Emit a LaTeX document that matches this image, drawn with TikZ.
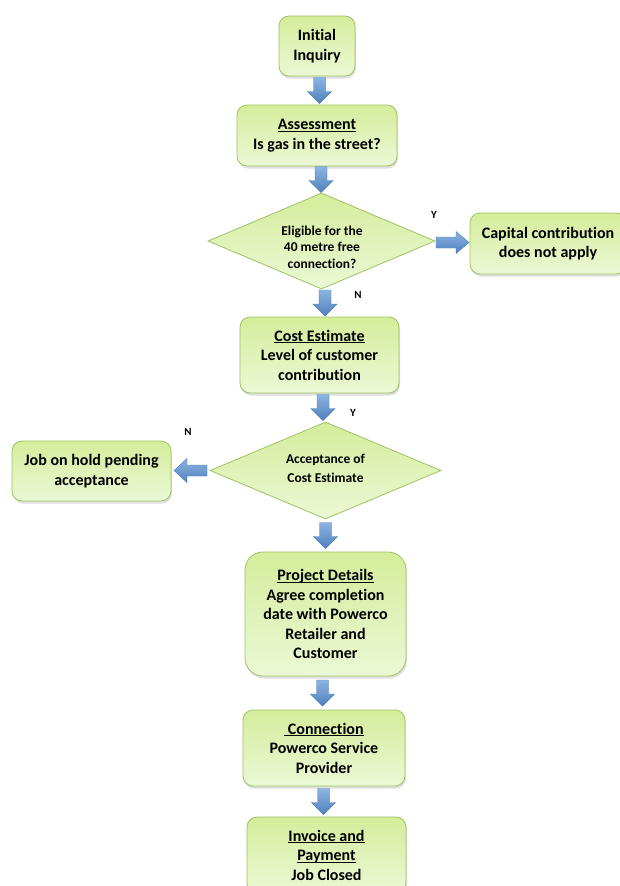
\documentclass[tikz,border=0pt]{standalone}
\usepackage{fontspec}
\setmainfont{Carlito}[Ligatures=NoCommon]
\usetikzlibrary{shapes.geometric,shadows,calc}
\definecolor{boxtop}{RGB}{212,237,155}
\definecolor{boxbot}{RGB}{236,248,214}
\definecolor{boxline}{RGB}{158,195,96}
\definecolor{arrlight}{RGB}{141,180,226}
\definecolor{arrdark}{RGB}{79,129,189}
\definecolor{arrline}{RGB}{74,122,180}
\newcommand\myul[1]{\setbox0\hbox{#1}\rlap{\rule[-2.2pt]{\wd0}{0.8pt}}\box0}
\newcommand\downarr[3]{\path[barrow] let \p1=(#1.south), \p2=(#2.north), \n1={(\y1+\y2)/2} in
 (#3pt-6pt,\n1+13pt) -- (#3pt+6pt,\n1+13pt) -- (#3pt+6pt,\n1-1pt) -- (#3pt+12pt,\n1-1pt) -- (#3pt,\n1-13pt) -- (#3pt-12pt,\n1-1pt) -- (#3pt-6pt,\n1-1pt) -- cycle;}
\newcommand\rightarr[3]{\path[barrow] let \p1=(#1.east), \p2=(#2.west), \n1={(\x1+\x2)/2} in
 (\n1-16.5pt,-#3pt+5.5pt) -- (\n1+3.5pt,-#3pt+5.5pt) -- (\n1+3.5pt,-#3pt+11pt) -- (\n1+16.5pt,-#3pt) -- (\n1+3.5pt,-#3pt-11pt) -- (\n1+3.5pt,-#3pt-5.5pt) -- (\n1-16.5pt,-#3pt-5.5pt) -- cycle;}
\newcommand\leftarr[3]{\path[barrow] let \p1=(#1.west), \p2=(#2.east), \n1={(\x1+\x2)/2} in
 (\n1+16.5pt,-#3pt+5.5pt) -- (\n1-3.5pt,-#3pt+5.5pt) -- (\n1-3.5pt,-#3pt+12pt) -- (\n1-16.5pt,-#3pt) -- (\n1-3.5pt,-#3pt-12pt) -- (\n1-3.5pt,-#3pt-5.5pt) -- (\n1+16.5pt,-#3pt-5.5pt) -- cycle;}
\begin{document}
\begin{tikzpicture}[x=1pt,y=-1pt,
 box/.style={rectangle, rounded corners=10pt, draw=boxline, line width=0.8pt, top color=boxtop, bottom color=boxbot, drop shadow={shadow xshift=1pt,shadow yshift=-2.5pt,opacity=0.25}, align=center, font=\fontsize{16}{19.5}\selectfont\bfseries, inner sep=0pt},
 dec/.style={diamond, aspect=2.4, draw=boxline, line width=0.8pt, top color=boxtop, bottom color=boxbot, inner sep=0pt},
 dtext/.style={align=center, font=\fontsize{13.5}{16.5}\selectfont\bfseries, inner sep=0pt},
 yn/.style={font=\fontsize{11}{12}\selectfont\bfseries, inner sep=0pt},
 barrow/.style={top color=arrlight, bottom color=arrdark, draw=arrline, line width=0.4pt}]
\useasboundingbox[fill=white] (0,0) rectangle (619,886);
\node[box, minimum width=76pt, minimum height=60pt] (b1) at (317,46) {Initial\\Inquiry};
\node[box, minimum width=160pt, minimum height=61pt] (b2) at (317,135.5) {\myul{Assessment}\\Is gas in the street?};
\node[dec, minimum width=227pt, minimum height=96pt] (d1) at (321.5,241) {};
\node[dtext] (d1t) at (322,247) {Eligible for the\\40 metre free\\connection?};
\node[box, minimum width=156pt, minimum height=61pt] (b4) at (548,243.5) {Capital contribution\\does not apply};
\node[box, minimum width=159pt, minimum height=76pt] (b5) at (319.5,355) {\myul{Cost Estimate}\\Level of customer\\contribution};
\node[dec, minimum width=231pt, minimum height=97pt] (d2) at (325.5,470.5) {};
\node[dtext, font=\fontsize{13.5}{19}\selectfont\bfseries] (d2t) at (325.5,468) {Acceptance of\\Cost Estimate};
\node[box, minimum width=159pt, minimum height=60pt] (b7) at (91.5,471) {Job on hold pending\\acceptance};
\node[box, minimum width=161pt, minimum height=124pt, rounded corners=18pt] (b8) at (325.5,614) {\myul{Project Details}\\Agree completion\\date with Powerco\\Retailer and\\Customer};
\node[box, minimum width=162pt, minimum height=76pt] (b9) at (324,748) {\myul{\ Connection}\\Powerco Service\\Provider};
\node[box, minimum width=159pt, minimum height=76pt] (b10) at (326.5,855) {\myul{Invoice and}\\\myul{Payment}\\Job Closed};
\node[yn] (y1) at (434,215) {Y};
\node[yn] (n1) at (358,295) {N};
\node[yn] (y2) at (353,413) {Y};
\node[yn] (n2) at (188,432) {N};
\downarr{b1}{b2}{319.5}
\downarr{b2}{d1}{321}
\downarr{d1}{b5}{325}
\downarr{b5}{d2}{323}
\downarr{d2}{b8}{325.5}
\downarr{b8}{b9}{322.5}
\downarr{b9}{b10}{323.5}
\rightarr{d1}{b4}{242.5}
\leftarr{d2}{b7}{470.5}
\end{tikzpicture}
\end{document}
